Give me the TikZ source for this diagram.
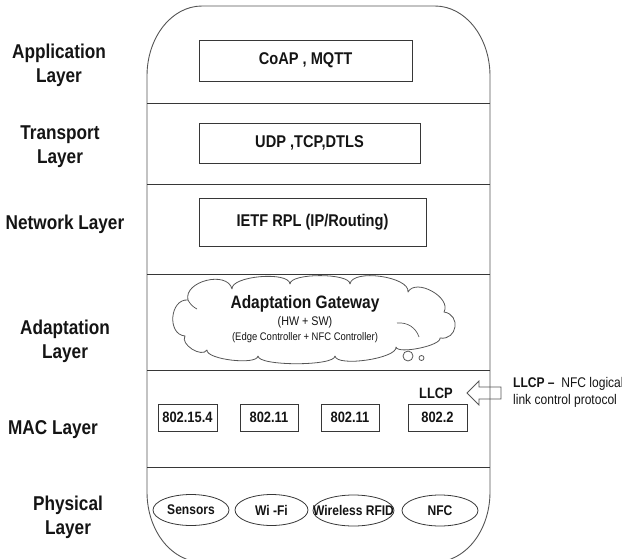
\documentclass[tikz,border=0pt]{standalone}
\usepackage{fontspec}
\setmainfont{Liberation Sans}[FakeStretch=0.86]
\usetikzlibrary{shapes.geometric}

\definecolor{edge}{RGB}{85,85,85}
\definecolor{ink}{RGB}{20,20,20}

\tikzset{
  frame/.style={draw=edge, line width=0.9pt},
  sep/.style={draw=ink!85, line width=0.9pt},
  cloudline/.style={draw=edge, line width=0.8pt},
  protobox/.style={draw=ink!85, line width=0.9pt, rectangle, inner sep=0pt,
                   text=ink, font=\fontsize{17}{20}\selectfont\bfseries},
  macbox/.style={draw=ink!85, line width=0.9pt, rectangle, inner sep=0pt,
                 minimum height=27pt, text=ink, font=\fontsize{15}{18}\selectfont\bfseries},
  phy/.style={draw=ink!85, line width=0.8pt, ellipse, inner sep=0pt,
              minimum height=31pt, text=ink, font=\fontsize{14}{17}\selectfont\bfseries},
  layername/.style={align=center, inner sep=0pt, text=ink,
                    font=\fontsize{20}{24}\selectfont\bfseries},
  bubble/.style={draw=edge, line width=0.8pt, circle, inner sep=0pt}
}
% text that does not widen its ellipse
\newcommand{\zerowide}[1]{\makebox[0pt]{#1}}

\begin{document}
\begin{tikzpicture}[x=1pt, y=-1pt]
\useasboundingbox (0,0) rectangle (622,558);

% outer stack outline with rounded top and bottom
\begin{scope}
\clip (0,0) rectangle (622,558);
\draw[frame] (147,76) .. controls (147,37.3) and (171.6,6) .. (202,6)
  -- (435,6) .. controls (465.4,6) and (490,37.3) .. (490,76)
  -- (490,492) .. controls (490,530.7) and (465.4,562) .. (435,562)
  -- (202,562) .. controls (171.6,562) and (147,530.7) .. (147,492) -- cycle;
\end{scope}

% layer separators
\draw[sep] (147,103) -- (490,103);
\draw[sep] (147,184) -- (490,184);
\draw[sep] (147,274) -- (490,274);
\draw[sep] (147,370) -- (490,370);
\draw[sep] (147,467) -- (490,467);

% layer names
\node[layername] (lapp) at (59,64.9) {Application\\Layer};
\node[layername] (ltra) at (60,146.4) {Transport\\Layer};
\node[layername] (lnet) at (65,223.9) {Network Layer};
\node[layername] (lada) at (65,340.9) {Adaptation\\Layer};
\node[layername] (lmac) at (53,429.9) {MAC Layer};
\node[layername] (lphy) at (68,517.4) {Physical\\Layer};

% protocol boxes
\node[protobox, minimum width=213pt, minimum height=41pt] (app) at (305.5,60.5) {CoAP , MQTT};
\node[protobox, minimum width=221pt, minimum height=40pt] (tra) at (309.5,143) {UDP ,TCP,DTLS};
\node[protobox, minimum width=227pt, minimum height=48pt] (net) at (312.5,222) {IETF RPL (IP/Routing)};

% adaptation gateway cloud, drawn bump by bump
\draw[cloudline, line join=round]
  (185,336) .. controls (166.8,334.5) and (169.8,298.5) .. (188,300)
  .. controls (183.3,281.2) and (227.3,270.2) .. (232,289)
  .. controls (230.9,275.9) and (288.9,270.9) .. (290,284)
  .. controls (290,272.8) and (350,272.8) .. (350,284)
  .. controls (352.1,268.5) and (410.1,276.5) .. (408,292)
  .. controls (416,277.6) and (452,297.6) .. (444,312)
  .. controls (461.3,314.7) and (457.3,340.7) .. (440,338)
  .. controls (441.6,345.6) and (397.6,354.6) .. (396,347)
  .. controls (397.7,358.4) and (336.7,367.4) .. (335,356)
  .. controls (335,366.3) and (258,366.3) .. (258,356)
  .. controls (256.9,365.5) and (205.9,359.5) .. (207,350)
  .. controls (201.8,358.2) and (179.8,344.2) .. (185,336) -- cycle;
% inner folds of the cloud
\draw[cloudline, line width=0.7pt] (397,323) .. controls (408,322) and (416,328) .. (419,337);
\draw[cloudline, line width=0.7pt] (188,300) .. controls (190,304) and (193,307) .. (197,309);
\node[bubble, minimum size=10pt] (b1) at (408,356) {};
\node[bubble, minimum size=5pt] (b2) at (421.5,358) {};
\node[inner sep=0pt, text=ink, font=\fontsize{18}{20}\selectfont\bfseries] (gwt) at (305,303.4) {Adaptation Gateway};
\node[inner sep=0pt, text=ink, font=\fontsize{12.5}{14}\selectfont] (gwa) at (305,322.5) {(HW + SW)};
\node[inner sep=0pt, text=ink, font=\fontsize{11}{13}\selectfont] (gwb) at (305,337.5) {(Edge Controller + NFC Controller)};

% MAC protocols
\node[macbox, minimum width=59pt] (m1) at (187.5,417.5) {802.15.4};
\node[macbox, minimum width=58pt] (m2) at (269,417.5) {802.11};
\node[macbox, minimum width=58pt] (m3) at (350,417.5) {802.11};
\node[macbox, minimum width=59pt] (m4) at (437.5,417.5) {802.2};
\node[inner sep=0pt, text=ink, font=\fontsize{15}{18}\selectfont\bfseries] (llcp) at (436,393) {LLCP};

% block arrow pointing at LLCP
\draw[frame, line width=0.8pt] (467,393) -- (479,381) -- (479,387) -- (501,387)
  -- (501,399) -- (479,399) -- (479,405) -- cycle;
\node[anchor=north west, inner sep=0pt, align=left, text=ink,
      font=\fontsize{14}{17}\selectfont] (note) at (513,377)
      {\textbf{LLCP –}\ \ NFC logical\\link control protocol};

% physical media
\node[phy, minimum width=76pt] (p1) at (191,510) {\zerowide{Sensors}};
\node[phy, minimum width=73pt] (p2) at (271.5,510) {\zerowide{Wi -Fi}};
\node[phy, minimum width=81pt] (p3) at (353.5,510.5) {\zerowide{Wireless RFID}};
\node[phy, minimum width=76pt] (p4) at (440,510.5) {\zerowide{NFC}};
\end{tikzpicture}
\end{document}
